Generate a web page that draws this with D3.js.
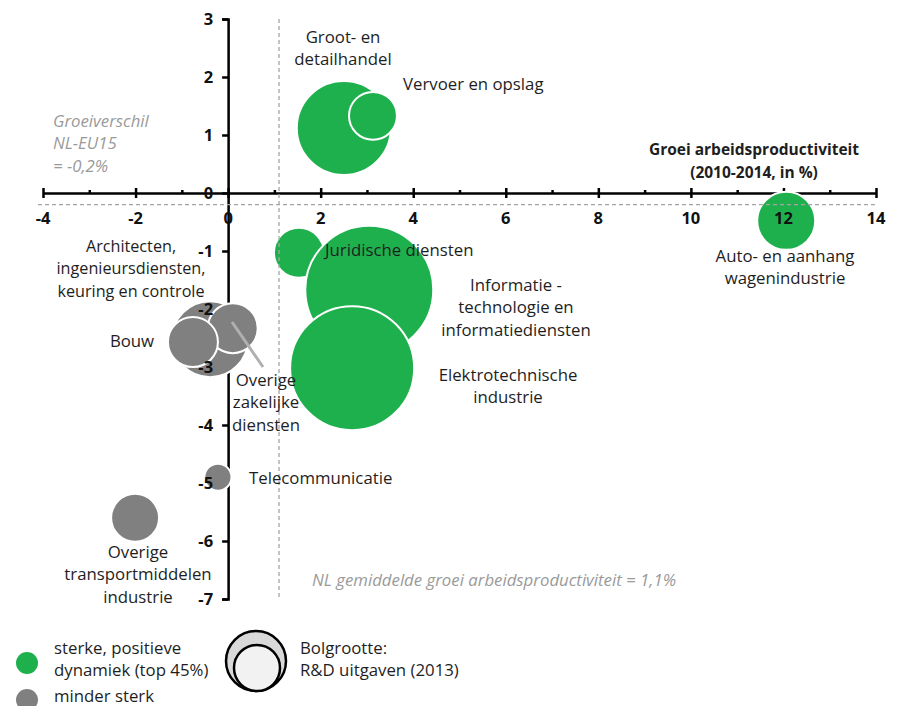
<!DOCTYPE html>
<html>
<head>
<meta charset="utf-8">
<script src="https://cdn.jsdelivr.net/npm/d3@7"></script>
<style>
  html, body { margin: 0; padding: 0; background: #fff; }
  svg { display: block; font-family: "Open Sans", Lato, sans-serif; }
</style>
</head>
<body>
<svg id="chart" width="900" height="706"></svg>
<script>
// Sectors: labour productivity growth 2010-2014 (%), growth gap NL-EU15 (%-pt), R&D spending 2013
const sectors = [
  "Groot- en detailhandel",
  "Vervoer en opslag",
  "Auto- en aanhangwagenindustrie",
  "Juridische diensten",
  "Informatietechnologie en informatiediensten",
  "Elektrotechnische industrie",
  "Architecten, ingenieursdiensten, keuring en controle",
  "Overige zakelijke diensten",
  "Bouw",
  "Telecommunicatie",
  "Overige transportmiddelen industrie"
];
const productivityGrowth = [2.5, 3.13, 12.06, 1.53, 3.05, 2.68, -0.39, 0.1, -0.76, -0.22, -2.01];
const growthGap          = [1.12, 1.33, -0.48, -1.03, -1.67, -3.02, -2.52, -2.33, -2.57, -4.9, -5.6];
const rdSpending         = [885, 230, 337, 250, 1640, 1540, 578, 250, 250, 73, 230];
const dynamicGroup       = ["sterk", "sterk", "sterk", "sterk", "sterk", "sterk", "minder", "minder", "minder", "minder", "minder"];

const xTicksMajor = [-4, -2, 0, 2, 4, 6, 8, 10, 12, 14];
const xTicksMinor = [-3, -1, 1, 3, 5, 7, 9, 11, 13];
const yTicks = [-7, -6, -5, -4, -3, -2, -1, 0, 1, 2, 3];

const nlAverageGrowth = 1.1;
const nlEuGap = -0.2;

const colors = { sterk: "#1fb04e", minder: "#808080" };
const textColor = "#1e1e1e";
const noteColor = "#9a9a9a";

const svg = d3.select("#chart");

const x = d3.scaleLinear().domain([-4, 14]).range([43, 876]);
const y = d3.scaleLinear().domain([-7, 3]).range([599, 19]);
const r = d3.scaleSqrt().domain([0, 1640]).range([0, 64]);

// reference lines: NL average productivity growth and NL-EU15 gap
const refLayer = svg.append("g");

// axes
const axisLayer = svg.append("g");

axisLayer.append("g")
  .attr("transform", `translate(0,${y(0)})`)
  .call(d3.axisBottom(x).tickValues(xTicksMajor).tickSize(5).tickSizeOuter(0).tickFormat(""))
  .call(g => g.select(".domain").attr("stroke", "#000").attr("stroke-width", 2.5))
  .call(g => g.selectAll(".tick line").attr("y1", -5).attr("y2", 5).attr("stroke", "#000").attr("stroke-width", 2.5));

axisLayer.append("g")
  .attr("transform", `translate(0,${y(0)})`)
  .call(d3.axisBottom(x).tickValues(xTicksMinor).tickSize(-3).tickFormat(""))
  .call(g => g.select(".domain").remove())
  .call(g => g.selectAll(".tick line").attr("stroke", "#000").attr("stroke-width", 2.5));

axisLayer.append("g")
  .attr("transform", `translate(${x(0)},0)`)
  .call(d3.axisLeft(y).tickValues(yTicks).tickSize(6).tickSizeOuter(6).tickFormat(""))
  .call(g => g.select(".domain").attr("stroke", "#000").attr("stroke-width", 2.5))
  .call(g => g.selectAll(".tick line").attr("stroke", "#000").attr("stroke-width", 2.5));

// bubbles
const data = sectors.map((s, i) => ({
  name: s, x: productivityGrowth[i], y: growthGap[i], rd: rdSpending[i], group: dynamicGroup[i]
}));

svg.append("g").selectAll("circle")
  .data(data)
  .join("circle")
  .attr("cx", d => x(d.x))
  .attr("cy", d => y(d.y))
  .attr("r", d => r(d.rd))
  .attr("fill", d => colors[d.group])
  .attr("stroke", "#fff")
  .attr("stroke-width", 2);

refLayer.raise();
refLayer.append("line")
  .attr("x1", x(nlAverageGrowth)).attr("x2", x(nlAverageGrowth))
  .attr("y1", y(3)).attr("y2", y(-7))
  .attr("stroke", "#a5a5a5").attr("stroke-width", 1.3).attr("stroke-dasharray", "4,3");
refLayer.append("line")
  .attr("x1", 38).attr("x2", x(14))
  .attr("y1", y(nlEuGap)).attr("y2", y(nlEuGap))
  .attr("stroke", "#a5a5a5").attr("stroke-width", 1.3).attr("stroke-dasharray", "4,3");

// pointer for Overige zakelijke diensten
svg.append("line")
  .attr("x1", 232).attr("y1", 322).attr("x2", 263).attr("y2", 367)
  .attr("stroke", "#b0b0b0").attr("stroke-width", 3);

// tick labels drawn above the bubbles
const tickLabels = svg.append("g")
  .attr("font-weight", "bold").attr("font-size", 16.5).attr("fill", "#111");
tickLabels.selectAll("text.xt")
  .data(xTicksMajor)
  .join("text")
  .attr("class", "xt")
  .attr("x", d => x(d))
  .attr("y", y(0) + 25)
  .attr("dy", "0.35em")
  .attr("text-anchor", "middle")
  .text(d => d);
tickLabels.selectAll("text.yt")
  .data(yTicks)
  .join("text")
  .attr("class", "yt")
  .attr("x", x(0) - 15)
  .attr("y", d => y(d))
  .attr("dy", "0.35em")
  .attr("text-anchor", "end")
  .text(d => d);

// text labels
const lineH = 22.5;
const labels = [
  { lines: ["Groot- en", "detailhandel"], x: 343, y: 37, anchor: "middle" },
  { lines: ["Vervoer en opslag"], x: 403, y: 84, anchor: "start" },
  { lines: ["Auto- en aanhang", "wagenindustrie"], x: 785, y: 256, anchor: "middle" },
  { lines: ["Juridische diensten"], x: 325, y: 250, anchor: "start" },
  { lines: ["Informatie -", "technologie en", "informatiediensten"], x: 516, y: 285, anchor: "middle" },
  { lines: ["Elektrotechnische", "industrie"], x: 508, y: 375, anchor: "middle" },
  { lines: ["Architecten,", "ingenieursdiensten,", "keuring en controle"], x: 131, y: 246, anchor: "middle", size: 16.2 },
  { lines: ["Bouw"], x: 132, y: 341, anchor: "middle" },
  { lines: ["Overige", "zakelijke", "diensten"], x: 266, y: 380, anchor: "middle" },
  { lines: ["Telecommunicatie"], x: 249, y: 478, anchor: "start" },
  { lines: ["Overige", "transportmiddelen", "industrie"], x: 138, y: 552, anchor: "middle" },
  { lines: ["Groei arbeidsproductiviteit", "(2010-2014, in %)"], x: 754, y: 150, anchor: "middle", bold: true, size: 15.5 },
  { lines: ["Groeiverschil", "NL-EU15", "= -0,2%"], x: 53, y: 121, anchor: "start", note: true },
  { lines: ["NL gemiddelde groei arbeidsproductiviteit = 1,1%"], x: 312, y: 580, anchor: "start", note: true },
  { lines: ["sterke, positieve", "dynamiek (top 45%)"], x: 54, y: 648, anchor: "start" },
  { lines: ["minder sterk"], x: 54, y: 696, anchor: "start" },
  { lines: ["Bolgrootte:", "R&D uitgaven (2013)"], x: 300, y: 648, anchor: "start" }
];

const labelG = svg.append("g").attr("font-size", 16.8);
labels.forEach(l => {
  const t = labelG.append("text")
    .attr("x", l.x).attr("y", l.y)
    .attr("text-anchor", l.anchor)
    .attr("fill", l.note ? noteColor : textColor)
    .attr("font-style", l.note ? "italic" : null)
    .attr("font-weight", l.bold ? "bold" : null)
    .attr("font-size", l.size || null);
  l.lines.forEach((line, i) => {
    t.append("tspan").attr("x", l.x).attr("y", l.y + i * lineH).attr("dy", "0.35em").text(line);
  });
});

// legend: colour
const legend = svg.append("g");
legend.append("circle").attr("cx", 27).attr("cy", 663).attr("r", 11).attr("fill", colors.sterk);
legend.append("circle").attr("cx", 27).attr("cy", 700).attr("r", 11).attr("fill", colors.minder);
// legend: bubble size
legend.append("circle").attr("cx", 256).attr("cy", 661).attr("r", 30)
  .attr("fill", "#d9d9d9").attr("stroke", "#000").attr("stroke-width", 2.5);
legend.append("circle").attr("cx", 257).attr("cy", 668).attr("r", 23)
  .attr("fill", "#f2f2f2").attr("stroke", "#000").attr("stroke-width", 2.5);
</script>
</body>
</html>
